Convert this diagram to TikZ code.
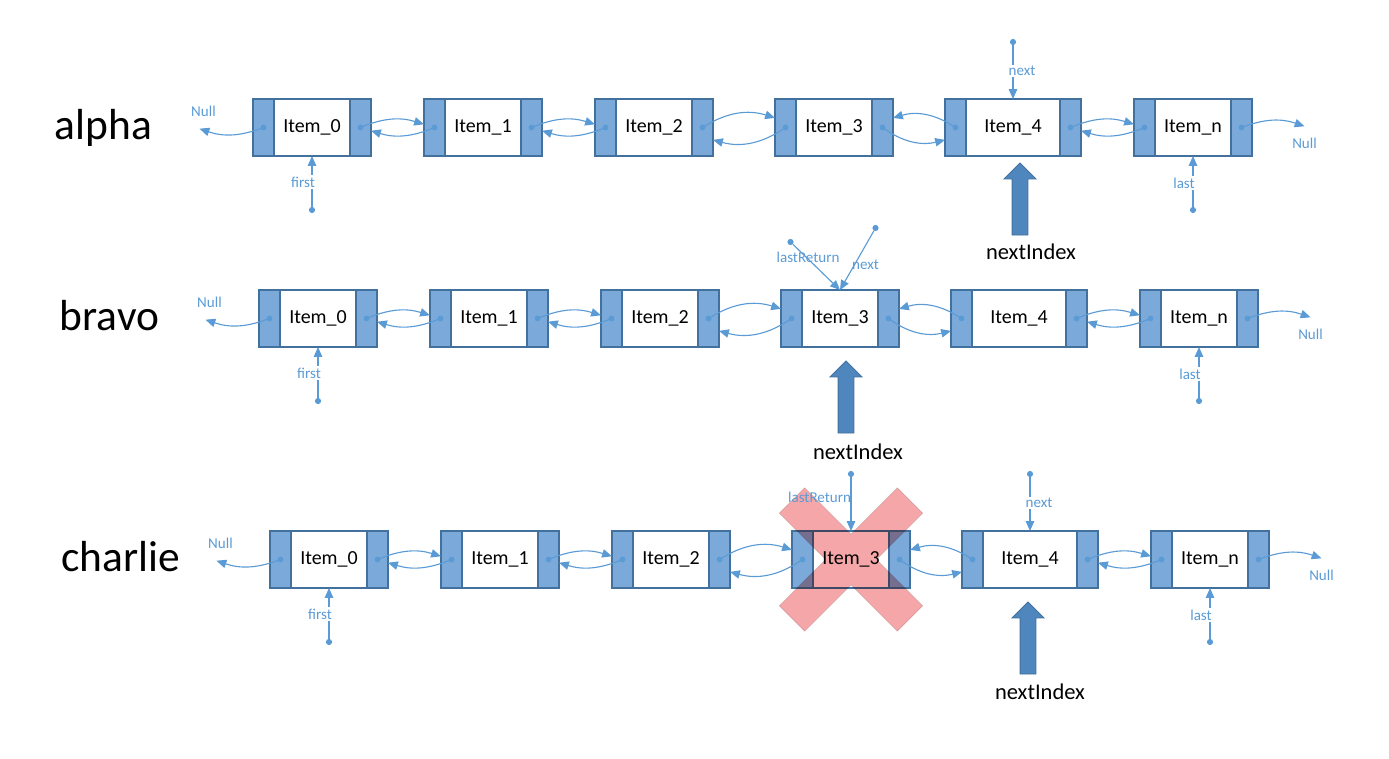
\documentclass[tikz,border=0pt]{standalone}
\usepackage{fontspec}
\setmainfont{Carlito}
\usepackage{tikz}
\usetikzlibrary{positioning, arrows.meta, calc, shapes.arrows}

\definecolor{cellfill}{RGB}{123,169,218}
\definecolor{cellline}{RGB}{65,113,156}
\definecolor{linkblue}{RGB}{91,155,213}
\definecolor{idxfill}{RGB}{79,134,189}
\definecolor{crosspink}{RGB}{244,166,168}

\tikzset{
  item/.style={draw=cellline, fill=white, line width=1pt, minimum width=1.9cm, minimum height=1.425cm, inner sep=0pt, outer sep=0pt, font=\fontsize{14.2}{16}\selectfont},
  cell/.style={draw=cellline, fill=cellfill, line width=1pt, minimum width=0.525cm, minimum height=1.425cm, inner sep=0pt, outer sep=0pt,
    path picture={\fill[linkblue] (path picture bounding box.center) circle (2.1pt);}},
  link/.style={draw=linkblue, line width=0.8pt, -{Triangle[length=7pt, width=6pt]}},
  ptr/.style={circle, fill=linkblue, inner sep=0pt, minimum size=4.4pt},
  lbl/.style={text=linkblue, font=\fontsize{10.7}{12}\selectfont, inner sep=1pt},
  rowname/.style={font=\fontsize{30.9}{34}\selectfont, anchor=base},
  idxarrow/.style={single arrow, draw=cellline, fill=idxfill, line width=0.6pt, shape border rotate=90, minimum height=1.8cm, single arrow head extend=0.2cm, inner sep=0.1875cm},
  idxlabel/.style={font=\fontsize{16}{18}\selectfont}
}

\begin{document}
\begin{tikzpicture}
\useasboundingbox (0,0) rectangle (34.725,-18.975);

\foreach \row/\rname/\xx/\yy in {a/alpha/7.8/-3.1875, b/bravo/7.95/-7.9625, c/charlie/8.225/-13.9875}{
  % middle boxes
  \node[item] (\row0) at (\xx,\yy) {Item\_0};
  \node[item, right=2.375cm of \row0] (\row1) {Item\_1};
  \node[item, right=2.375cm of \row1] (\row2) {Item\_2};
  \node[item, right=2.6cm of \row2] (\row3) {Item\_3};
  \node[item, right=2.35cm of \row3, minimum width=2.35cm] (\row4) {Item\_4};
  \node[item, right=2.375cm of \row4] (\row5) {Item\_n};
  % prev / next cells
  \foreach \i in {0,...,5}{
    \node[cell, left=0pt of \row\i] (\row\i l) {};
    \node[cell, right=0pt of \row\i] (\row\i r) {};
  }
  \node[rowname] (\row name) at ([xshift=-3.7375cm, yshift=-0.3cm]\row0l.west) {\rname};
  % links
  \foreach \i/\j in {0/1,1/2,4/5}{
    \draw[link] (\row\i r.center) to[bend left=20] ([yshift=0.08cm]\row\j l.west);
    \draw[link] (\row\j l.center) to[bend left=20] ([yshift=-0.08cm]\row\i r.east);
  }
  \draw[link] (\row2r.center) to[bend left=25] ([yshift=0.24cm]\row3l.west);
  \draw[link] (\row3l.center) to[bend left=25] ([yshift=-0.31cm]\row2r.east);
  \draw[link] (\row4l.center) to[bend right=25] ([yshift=0.24cm]\row3r.east);
  \draw[link] (\row3r.center) to[bend right=25] ([yshift=-0.31cm]\row4l.west);
  % Null ends
  \coordinate (\row nl) at ([xshift=-1.6cm, yshift=-0.03cm]\row0l.center);
  \coordinate (\row nr) at ([xshift=1.575cm, yshift=0.03cm]\row5r.center);
  \draw[link] (\row0l.center) to[bend left=20] (\row nl);
  \draw[link] (\row5r.center) to[bend left=20] (\row nr);
  \node[lbl] (\row nlt) at ([xshift=0.1cm, yshift=0.425cm]\row nl) {Null};
  \node[lbl] (\row nrt) at ([yshift=-0.425cm]\row nr) {Null};
  % first / last
  \node[ptr] (\row fp) at ([yshift=-1.35cm]\row0.south) {};
  \node[ptr] (\row lp) at ([yshift=-1.35cm]\row5.south) {};
  \draw[link] (\row fp) -- (\row0.south);
  \draw[link] (\row lp) -- (\row5.south);
  \node[lbl, fill=white] (\row ft) at ([xshift=-0.225cm, yshift=-0.65cm]\row0.south) {first};
  \node[lbl, fill=white] (\row lt) at ([xshift=-0.225cm, yshift=-0.675cm]\row5.south) {last};
}

% removed node
\begin{scope}[shift={(c3.center)}, rotate=45, blend mode=multiply]
\filldraw[fill=crosspink, draw=black!15, line width=0.4pt] (2.0875,0.45) -- (0.45,0.45) -- (0.45,2.0875) -- (-0.45,2.0875) -- (-0.45,0.45) -- (-2.0875,0.45) -- (-2.0875,-0.45) -- (-0.45,-0.45) -- (-0.45,-2.0875) -- (0.45,-2.0875) -- (0.45,-0.45) -- (2.0875,-0.45) -- cycle;
\end{scope}

% alpha
\node[ptr] (anp) at ([yshift=1.425cm]a4.north) {};
\draw[link] (anp) -- (a4.north);
\node[lbl, fill=white] (ant) at ([xshift=0.225cm, yshift=0.7cm]a4.north) {next};
\node[idxarrow] (aidx) at ([xshift=0.175cm, yshift=-1.175cm]a4.south) {};
\node[idxlabel] (aidxt) at ([xshift=0.275cm, yshift=-1.225cm]aidx.center) {nextIndex};

% bravo
\node[ptr] (blp) at ([xshift=-1.2375cm, yshift=1.2cm]b3.north) {};
\node[ptr] (bnp) at ([xshift=0.8875cm, yshift=1.55cm]b3.north) {};
\draw[link] (blp) -- (b3.north);
\draw[link] (bnp) -- (b3.north);
\node[lbl] (blt) at ([xshift=-0.8cm, yshift=0.825cm]b3.north) {lastReturn};
\node[lbl] (bnt) at ([xshift=0.6375cm, yshift=0.625cm]b3.north) {next};
\node[idxarrow] (bidx) at ([xshift=0.15cm, yshift=-1.35cm]b3.south) {};
\node[idxlabel] (bidxt) at ([xshift=0.3cm, yshift=-1.275cm]bidx.center) {nextIndex};

% charlie
\node[ptr] (clp) at ([yshift=1.425cm]c3.north) {};
\draw[link] (clp) -- (c3.north);
\node[lbl] (clt) at ([xshift=-0.7875cm, yshift=0.85cm]c3.north) {lastReturn};
\node[ptr] (cnp) at ([yshift=1.425cm]c4.north) {};
\draw[link] (cnp) -- (c4.north);
\node[lbl, fill=white] (cnt) at ([xshift=0.225cm, yshift=0.7cm]c4.north) {next};
\node[idxarrow] (cidx) at ([xshift=-0.05cm, yshift=-1.35cm]c4.south) {};
\node[idxlabel] (cidxt) at ([xshift=0.3cm, yshift=-1.25cm]cidx.center) {nextIndex};
\end{tikzpicture}
\end{document}
